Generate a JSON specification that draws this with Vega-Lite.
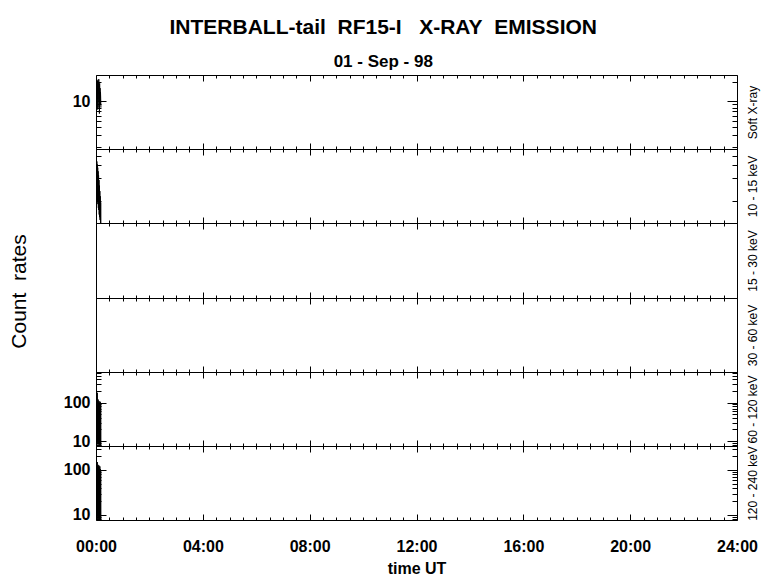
{
  "$schema": "https://vega.github.io/schema/vega-lite/v6.json",
  "background": "white",
  "padding": {"left": 7, "top": 17, "right": 5, "bottom": 5},
  "bounds": "flush",
  "title": {
    "text": "INTERBALL-tail\u00a0\u00a0RF15-I\u00a0\u00a0\u00a0X-RAY\u00a0\u00a0EMISSION",
    "subtitle": "01 - Sep - 98",
    "font": "Liberation Sans", "fontSize": 21, "fontWeight": "bold", "color": "black",
    "subtitleFont": "Liberation Sans", "subtitleFontSize": 17, "subtitleFontWeight": "bold", "subtitleColor": "black",
    "subtitlePadding": 16, "offset": 3, "anchor": "middle"
  },
  "data": {"values": [
    {"band": "soft", "t": 0.000, "v": 15}, {"band": "soft", "t": 0.008, "v": 21}, {"band": "soft", "t": 0.016, "v": 9}, {"band": "soft", "t": 0.024, "v": 22},
    {"band": "soft", "t": 0.032, "v": 12}, {"band": "soft", "t": 0.040, "v": 19}, {"band": "soft", "t": 0.048, "v": 7.5}, {"band": "soft", "t": 0.056, "v": 21},
    {"band": "soft", "t": 0.064, "v": 11}, {"band": "soft", "t": 0.072, "v": 18}, {"band": "soft", "t": 0.080, "v": 8}, {"band": "soft", "t": 0.088, "v": 20},
    {"band": "soft", "t": 0.096, "v": 13}, {"band": "soft", "t": 0.104, "v": 22}, {"band": "soft", "t": 0.112, "v": 10}, {"band": "soft", "t": 0.120, "v": 17},
    {"band": "soft", "t": 0.128, "v": 6.5}, {"band": "soft", "t": 0.136, "v": 19}, {"band": "soft", "t": 0.144, "v": 12}, {"band": "soft", "t": 0.152, "v": 16},
    {"band": "soft", "t": 0.160, "v": 9}, {"band": "soft", "t": 0.168, "v": 14}, {"band": "soft", "t": 0.176, "v": 11}, {"band": "soft", "t": 0.184, "v": 8},

    {"band": "b1015", "t": 0.000, "v": 7.6}, {"band": "b1015", "t": 0.008, "v": 3}, {"band": "b1015", "t": 0.016, "v": 7.2}, {"band": "b1015", "t": 0.024, "v": 2.6},
    {"band": "b1015", "t": 0.032, "v": 6.8}, {"band": "b1015", "t": 0.040, "v": 2.3}, {"band": "b1015", "t": 0.048, "v": 6.2}, {"band": "b1015", "t": 0.056, "v": 2},
    {"band": "b1015", "t": 0.064, "v": 5.6}, {"band": "b1015", "t": 0.072, "v": 1.8}, {"band": "b1015", "t": 0.080, "v": 5}, {"band": "b1015", "t": 0.088, "v": 1.6},
    {"band": "b1015", "t": 0.096, "v": 4.4}, {"band": "b1015", "t": 0.104, "v": 1.5}, {"band": "b1015", "t": 0.112, "v": 3.8}, {"band": "b1015", "t": 0.120, "v": 1.3},
    {"band": "b1015", "t": 0.128, "v": 3.2}, {"band": "b1015", "t": 0.136, "v": 1.2}, {"band": "b1015", "t": 0.144, "v": 2.7}, {"band": "b1015", "t": 0.152, "v": 1.1},
    {"band": "b1015", "t": 0.160, "v": 2.3}, {"band": "b1015", "t": 0.168, "v": 1.0}, {"band": "b1015", "t": 0.176, "v": 1.9}, {"band": "b1015", "t": 0.184, "v": 0.9},

    {"band": "b60120", "t": 0.000, "v": 110}, {"band": "b60120", "t": 0.008, "v": 9}, {"band": "b60120", "t": 0.016, "v": 300}, {"band": "b60120", "t": 0.024, "v": 12},
    {"band": "b60120", "t": 0.032, "v": 105}, {"band": "b60120", "t": 0.040, "v": 8}, {"band": "b60120", "t": 0.048, "v": 180}, {"band": "b60120", "t": 0.056, "v": 10},
    {"band": "b60120", "t": 0.064, "v": 100}, {"band": "b60120", "t": 0.072, "v": 8.5}, {"band": "b60120", "t": 0.080, "v": 120}, {"band": "b60120", "t": 0.088, "v": 9},
    {"band": "b60120", "t": 0.096, "v": 95}, {"band": "b60120", "t": 0.104, "v": 8}, {"band": "b60120", "t": 0.112, "v": 110}, {"band": "b60120", "t": 0.120, "v": 11},
    {"band": "b60120", "t": 0.128, "v": 100}, {"band": "b60120", "t": 0.136, "v": 8}, {"band": "b60120", "t": 0.144, "v": 90}, {"band": "b60120", "t": 0.152, "v": 9},
    {"band": "b60120", "t": 0.160, "v": 105}, {"band": "b60120", "t": 0.168, "v": 8}, {"band": "b60120", "t": 0.176, "v": 95}, {"band": "b60120", "t": 0.184, "v": 7},

    {"band": "b120240", "t": 0.000, "v": 130}, {"band": "b120240", "t": 0.008, "v": 8}, {"band": "b120240", "t": 0.016, "v": 195}, {"band": "b120240", "t": 0.024, "v": 9},
    {"band": "b120240", "t": 0.032, "v": 125}, {"band": "b120240", "t": 0.040, "v": 8}, {"band": "b120240", "t": 0.048, "v": 150}, {"band": "b120240", "t": 0.056, "v": 10},
    {"band": "b120240", "t": 0.064, "v": 120}, {"band": "b120240", "t": 0.072, "v": 8}, {"band": "b120240", "t": 0.080, "v": 130}, {"band": "b120240", "t": 0.088, "v": 9},
    {"band": "b120240", "t": 0.096, "v": 115}, {"band": "b120240", "t": 0.104, "v": 8}, {"band": "b120240", "t": 0.112, "v": 125}, {"band": "b120240", "t": 0.120, "v": 9},
    {"band": "b120240", "t": 0.128, "v": 110}, {"band": "b120240", "t": 0.136, "v": 8}, {"band": "b120240", "t": 0.144, "v": 120}, {"band": "b120240", "t": 0.152, "v": 9},
    {"band": "b120240", "t": 0.160, "v": 105}, {"band": "b120240", "t": 0.168, "v": 8}, {"band": "b120240", "t": 0.176, "v": 100}, {"band": "b120240", "t": 0.184, "v": 7}
  ]},
  "spacing": 0,
  "vconcat": [
    {
      "width": 641, "height": 74,
      "transform": [{"filter": "datum.band == 'soft'"}],
      "layer": [
        {"mark": {"type": "line", "color": "black", "strokeWidth": 1, "clip": true},
         "encoding": {
           "x": {"field": "t", "type": "quantitative", "scale": {"domain": [0, 24], "nice": false, "zero": false},
                 "axis": {"orient": "bottom", "values": [0,0.5,1,1.5,2,2.5,3,3.5,4,4.5,5,5.5,6,6.5,7,7.5,8,8.5,9,9.5,10,10.5,11,11.5,12,12.5,13,13.5,14,14.5,15,15.5,16,16.5,17,17.5,18,18.5,19,19.5,20,20.5,21,21.5,22,22.5,23,23.5,24],
                          "tickSize": {"condition": {"test": "datum.value % 4 == 0", "value": -6}, "value": -3}, "labels": false, "title": null}},
           "y": {"field": "v", "type": "quantitative", "scale": {"type": "log", "domain": [1.85, 25.5], "nice": false},
                 "axis": {"orient": "left", "values": [2,3,4,5,6,7,8,9,10,20],
                          "tickSize": {"condition": {"test": "datum.value == 10 || datum.value == 100", "value": -10}, "value": -5},
                          "labelExpr": "(datum.value == 10 || datum.value == 100) ? datum.value + '' : ''", "labelPadding": 16, "title": null}}
         }},
        {"mark": {"type": "line", "strokeOpacity": 0, "clip": true},
         "encoding": {
           "x": {"field": "t", "type": "quantitative",
                 "axis": {"orient": "top", "values": [0,0.5,1,1.5,2,2.5,3,3.5,4,4.5,5,5.5,6,6.5,7,7.5,8,8.5,9,9.5,10,10.5,11,11.5,12,12.5,13,13.5,14,14.5,15,15.5,16,16.5,17,17.5,18,18.5,19,19.5,20,20.5,21,21.5,22,22.5,23,23.5,24],
                          "tickSize": {"condition": {"test": "datum.value % 4 == 0", "value": -6}, "value": -3}, "labels": false, "title": null}},
           "y": {"field": "v", "type": "quantitative",
                 "axis": {"orient": "right", "values": [2,3,4,5,6,7,8,9,10,20],
                          "tickSize": {"condition": {"test": "datum.value == 10 || datum.value == 100", "value": -10}, "value": -5},
                          "labels": false, "title": "Soft X-ray"}}
         }}
      ],
      "resolve": {"axis": {"x": "independent", "y": "independent"}}
    },
    {
      "width": 641, "height": 74,
      "transform": [{"filter": "datum.band == 'b1015'"}],
      "layer": [
        {"mark": {"type": "line", "color": "black", "strokeWidth": 1, "clip": true},
         "encoding": {
           "x": {"field": "t", "type": "quantitative", "scale": {"domain": [0, 24], "nice": false, "zero": false},
                 "axis": {"orient": "bottom", "values": [0,0.5,1,1.5,2,2.5,3,3.5,4,4.5,5,5.5,6,6.5,7,7.5,8,8.5,9,9.5,10,10.5,11,11.5,12,12.5,13,13.5,14,14.5,15,15.5,16,16.5,17,17.5,18,18.5,19,19.5,20,20.5,21,21.5,22,22.5,23,23.5,24],
                          "tickSize": {"condition": {"test": "datum.value % 4 == 0", "value": -6}, "value": -3}, "labels": false, "title": null}},
           "y": {"field": "v", "type": "quantitative", "scale": {"type": "log", "domain": [1, 10], "nice": false},
                 "axis": {"orient": "left", "values": [2,4,6,8], "tickSize": -5, "labels": false, "title": null}}
         }},
        {"mark": {"type": "line", "strokeOpacity": 0, "clip": true},
         "encoding": {
           "x": {"field": "t", "type": "quantitative",
                 "axis": {"orient": "top", "values": [0,0.5,1,1.5,2,2.5,3,3.5,4,4.5,5,5.5,6,6.5,7,7.5,8,8.5,9,9.5,10,10.5,11,11.5,12,12.5,13,13.5,14,14.5,15,15.5,16,16.5,17,17.5,18,18.5,19,19.5,20,20.5,21,21.5,22,22.5,23,23.5,24],
                          "tickSize": {"condition": {"test": "datum.value % 4 == 0", "value": -6}, "value": -3}, "labels": false, "title": null}},
           "y": {"field": "v", "type": "quantitative",
                 "axis": {"orient": "right", "values": [2,4,6,8], "tickSize": -5, "labels": false, "title": "10 - 15 keV"}}
         }}
      ],
      "resolve": {"axis": {"x": "independent", "y": "independent"}}
    },
    {
      "width": 641, "height": 75,
      "transform": [{"filter": "datum.band == 'b1530'"}],
      "layer": [
        {"mark": {"type": "line", "color": "black", "strokeWidth": 1, "clip": true},
         "encoding": {
           "x": {"field": "t", "type": "quantitative", "scale": {"domain": [0, 24], "nice": false, "zero": false},
                 "axis": {"orient": "bottom", "values": [0,0.5,1,1.5,2,2.5,3,3.5,4,4.5,5,5.5,6,6.5,7,7.5,8,8.5,9,9.5,10,10.5,11,11.5,12,12.5,13,13.5,14,14.5,15,15.5,16,16.5,17,17.5,18,18.5,19,19.5,20,20.5,21,21.5,22,22.5,23,23.5,24],
                          "tickSize": {"condition": {"test": "datum.value % 4 == 0", "value": -6}, "value": -3}, "labels": false, "title": null}},
           "y": {"field": "v", "type": "quantitative", "scale": {"type": "log", "domain": [1, 10], "nice": false},
                 "axis": {"orient": "left", "values": [], "labels": false, "title": "Count\u00a0\u00a0rates",
                          "titleFont": "Liberation Sans", "titleFontSize": 21, "titleFontWeight": "normal", "titleColor": "black",
                          "titleAngle": 270, "titleAlign": "center", "titleBaseline": "alphabetic", "titleX": -71, "titleY": 68}}
         }},
        {"mark": {"type": "line", "strokeOpacity": 0, "clip": true},
         "encoding": {
           "x": {"field": "t", "type": "quantitative",
                 "axis": {"orient": "top", "values": [0,0.5,1,1.5,2,2.5,3,3.5,4,4.5,5,5.5,6,6.5,7,7.5,8,8.5,9,9.5,10,10.5,11,11.5,12,12.5,13,13.5,14,14.5,15,15.5,16,16.5,17,17.5,18,18.5,19,19.5,20,20.5,21,21.5,22,22.5,23,23.5,24],
                          "tickSize": {"condition": {"test": "datum.value % 4 == 0", "value": -6}, "value": -3}, "labels": false, "title": null}},
           "y": {"field": "v", "type": "quantitative",
                 "axis": {"orient": "right", "values": [], "labels": false, "title": "15 - 30 keV"}}
         }}
      ],
      "resolve": {"axis": {"x": "independent", "y": "independent"}}
    },
    {
      "width": 641, "height": 74,
      "transform": [{"filter": "datum.band == 'b3060'"}],
      "layer": [
        {"mark": {"type": "line", "color": "black", "strokeWidth": 1, "clip": true},
         "encoding": {
           "x": {"field": "t", "type": "quantitative", "scale": {"domain": [0, 24], "nice": false, "zero": false},
                 "axis": {"orient": "bottom", "values": [0,0.5,1,1.5,2,2.5,3,3.5,4,4.5,5,5.5,6,6.5,7,7.5,8,8.5,9,9.5,10,10.5,11,11.5,12,12.5,13,13.5,14,14.5,15,15.5,16,16.5,17,17.5,18,18.5,19,19.5,20,20.5,21,21.5,22,22.5,23,23.5,24],
                          "tickSize": {"condition": {"test": "datum.value % 4 == 0", "value": -6}, "value": -3}, "labels": false, "title": null}},
           "y": {"field": "v", "type": "quantitative", "scale": {"type": "log", "domain": [1, 10], "nice": false},
                 "axis": {"orient": "left", "values": [], "labels": false, "title": null}}
         }},
        {"mark": {"type": "line", "strokeOpacity": 0, "clip": true},
         "encoding": {
           "x": {"field": "t", "type": "quantitative",
                 "axis": {"orient": "top", "values": [0,0.5,1,1.5,2,2.5,3,3.5,4,4.5,5,5.5,6,6.5,7,7.5,8,8.5,9,9.5,10,10.5,11,11.5,12,12.5,13,13.5,14,14.5,15,15.5,16,16.5,17,17.5,18,18.5,19,19.5,20,20.5,21,21.5,22,22.5,23,23.5,24],
                          "tickSize": {"condition": {"test": "datum.value % 4 == 0", "value": -6}, "value": -3}, "labels": false, "title": null}},
           "y": {"field": "v", "type": "quantitative",
                 "axis": {"orient": "right", "values": [], "labels": false, "title": "30 - 60 keV"}}
         }}
      ],
      "resolve": {"axis": {"x": "independent", "y": "independent"}}
    },
    {
      "width": 641, "height": 74,
      "transform": [{"filter": "datum.band == 'b60120'"}],
      "layer": [
        {"mark": {"type": "line", "color": "black", "strokeWidth": 1, "clip": true},
         "encoding": {
           "x": {"field": "t", "type": "quantitative", "scale": {"domain": [0, 24], "nice": false, "zero": false},
                 "axis": {"orient": "bottom", "values": [0,0.5,1,1.5,2,2.5,3,3.5,4,4.5,5,5.5,6,6.5,7,7.5,8,8.5,9,9.5,10,10.5,11,11.5,12,12.5,13,13.5,14,14.5,15,15.5,16,16.5,17,17.5,18,18.5,19,19.5,20,20.5,21,21.5,22,22.5,23,23.5,24],
                          "tickSize": {"condition": {"test": "datum.value % 4 == 0", "value": -6}, "value": -3}, "labels": false, "title": null}},
           "y": {"field": "v", "type": "quantitative", "scale": {"type": "log", "domain": [7.45, 623], "nice": false},
                 "axis": {"orient": "left", "values": [8,9,10,20,30,40,50,60,70,80,90,100,200,300,400,500,600],
                          "tickSize": {"condition": {"test": "datum.value == 10 || datum.value == 100", "value": -10}, "value": -5},
                          "labelExpr": "(datum.value == 10 || datum.value == 100) ? datum.value + '' : ''", "labelPadding": 16, "title": null}}
         }},
        {"mark": {"type": "line", "strokeOpacity": 0, "clip": true},
         "encoding": {
           "x": {"field": "t", "type": "quantitative",
                 "axis": {"orient": "top", "values": [0,0.5,1,1.5,2,2.5,3,3.5,4,4.5,5,5.5,6,6.5,7,7.5,8,8.5,9,9.5,10,10.5,11,11.5,12,12.5,13,13.5,14,14.5,15,15.5,16,16.5,17,17.5,18,18.5,19,19.5,20,20.5,21,21.5,22,22.5,23,23.5,24],
                          "tickSize": {"condition": {"test": "datum.value % 4 == 0", "value": -6}, "value": -3}, "labels": false, "title": null}},
           "y": {"field": "v", "type": "quantitative",
                 "axis": {"orient": "right", "values": [8,9,10,20,30,40,50,60,70,80,90,100,200,300,400,500,600],
                          "tickSize": {"condition": {"test": "datum.value == 10 || datum.value == 100", "value": -10}, "value": -5},
                          "labels": false, "title": "60 - 120 keV"}}
         }}
      ],
      "resolve": {"axis": {"x": "independent", "y": "independent"}}
    },
    {
      "width": 641, "height": 74,
      "transform": [{"filter": "datum.band == 'b120240'"}],
      "layer": [
        {"mark": {"type": "line", "color": "black", "strokeWidth": 1, "clip": true},
         "encoding": {
           "x": {"field": "t", "type": "quantitative", "scale": {"domain": [0, 24], "nice": false, "zero": false},
                 "axis": {"orient": "bottom", "values": [0,0.5,1,1.5,2,2.5,3,3.5,4,4.5,5,5.5,6,6.5,7,7.5,8,8.5,9,9.5,10,10.5,11,11.5,12,12.5,13,13.5,14,14.5,15,15.5,16,16.5,17,17.5,18,18.5,19,19.5,20,20.5,21,21.5,22,22.5,23,23.5,24],
                          "tickSize": {"condition": {"test": "datum.value % 4 == 0", "value": -6}, "value": -3},
                          "labelExpr": "datum.value % 4 == 0 ? ((datum.value < 10 ? '0' : '') + datum.value + ':00') : ''",
                          "labelPadding": 24, "title": "time UT", "titlePadding": 3,
                          "titleFont": "Liberation Sans", "titleFontSize": 16, "titleFontWeight": "bold", "titleColor": "black"}},
           "y": {"field": "v", "type": "quantitative", "scale": {"type": "log", "domain": [7.74, 341], "nice": false},
                 "axis": {"orient": "left", "values": [8,9,10,20,30,40,50,60,70,80,90,100,200,300],
                          "tickSize": {"condition": {"test": "datum.value == 10 || datum.value == 100", "value": -10}, "value": -5},
                          "labelExpr": "(datum.value == 10 || datum.value == 100) ? datum.value + '' : ''", "labelPadding": 16, "title": null}}
         }},
        {"mark": {"type": "line", "strokeOpacity": 0, "clip": true},
         "encoding": {
           "x": {"field": "t", "type": "quantitative",
                 "axis": {"orient": "top", "values": [0,0.5,1,1.5,2,2.5,3,3.5,4,4.5,5,5.5,6,6.5,7,7.5,8,8.5,9,9.5,10,10.5,11,11.5,12,12.5,13,13.5,14,14.5,15,15.5,16,16.5,17,17.5,18,18.5,19,19.5,20,20.5,21,21.5,22,22.5,23,23.5,24],
                          "tickSize": {"condition": {"test": "datum.value % 4 == 0", "value": -6}, "value": -3}, "labels": false, "title": null}},
           "y": {"field": "v", "type": "quantitative",
                 "axis": {"orient": "right", "values": [8,9,10,20,30,40,50,60,70,80,90,100,200,300],
                          "tickSize": {"condition": {"test": "datum.value == 10 || datum.value == 100", "value": -10}, "value": -5},
                          "labels": false, "title": "120 - 240 keV"}}
         }}
      ],
      "resolve": {"axis": {"x": "independent", "y": "independent"}}
    }
  ],
  "config": {
    "view": {"stroke": "black", "strokeWidth": 1},
    "axis": {
      "domain": false, "grid": false, "tickColor": "black", "tickWidth": 1,
      "labelFont": "Liberation Sans", "labelFontSize": 16, "labelFontWeight": "bold", "labelColor": "black",
      "labelFlush": false, "labelOverlap": false,
      "titleFont": "Liberation Sans", "titleColor": "black"
    },
    "axisRight": {
      "titleFont": "Liberation Sans", "titleFontSize": 12, "titleFontWeight": "normal", "titleColor": "black",
      "titleAngle": 270, "titleBaseline": "alphabetic", "titlePadding": 19
    }
  }
}
